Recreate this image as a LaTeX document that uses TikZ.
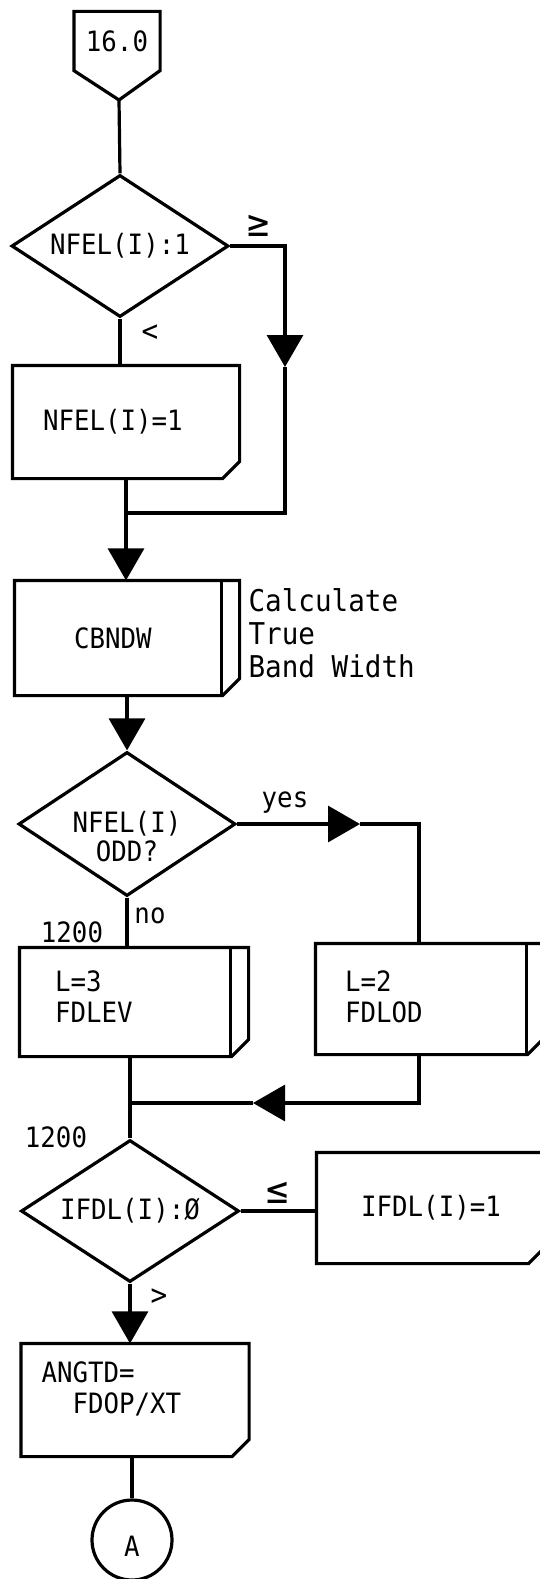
\documentclass[tikz,border=0pt]{standalone}
\usepackage{fontspec}
\setmonofont[FakeStretch=0.92]{DejaVu Sans Mono}
\usetikzlibrary{positioning,shapes.geometric,arrows.meta}

% box outline with the cut corner, and the one with the extra side line
\newcommand{\chamferbox}[1]{\draw (#1.north west) -- (#1.north east) -- ([yshift=17pt]#1.south east) -- ([xshift=-17pt]#1.south east) -- (#1.south west) -- cycle;}
\newcommand{\predefbox}[1]{\chamferbox{#1}\draw ([xshift=-18pt]#1.north east) -- ([xshift=-18pt]#1.south east);}

\begin{document}
\begin{tikzpicture}[x=1pt, y=-1pt, line width=3.2pt, >={Triangle[width=36pt,length=32pt]}, every node/.style={font=\ttfamily\fontsize{28}{31}\selectfont}]
\tikzstyle{decision}=[diamond, draw, inner sep=0pt, align=center, shape aspect=1.53, minimum width=217pt, minimum height=142pt]
\tikzstyle{procbox}=[rectangle, align=left, inner ysep=0pt]
\tikzstyle{lbl}=[inner sep=0pt]
\tikzstyle{smalllbl}=[inner sep=0pt, font=\ttfamily\fontsize{30}{30}\selectfont]
\tikzstyle{rellbl}=[inner sep=0pt, font=\ttfamily\fontsize{40}{40}\selectfont]
\useasboundingbox (0,0) rectangle (540,1579);

% entry connector
\node[minimum width=83pt, minimum height=56pt, inner sep=0pt] (conn) at (117,41) {16.0};
\coordinate (conntip) at (119,100);
\draw (conn.north west) -- (conn.south west) -- (conntip) -- (conn.south east) -- (conn.north east) -- cycle;

% first test
\node[decision] (nfelchk) at (120,246) {NFEL(I):1};
\node[rellbl] (gelbl) at (259,226) {≥};
\node[smalllbl] (ltlbl) at (150,333) {<};
\node[procbox, text width=166pt, inner xsep=29pt, minimum height=110pt] (nfelset) at (126,422) {NFEL(I)=1};
\chamferbox{nfelset}
\coordinate (arr1) at (285,367);
\coordinate (join1) at (126,513);
\draw (conntip) -- (nfelchk.north);
\draw (nfelchk.south) -- (nfelchk.south |- nfelset.north);
\draw[->] (nfelchk.east) -| (arr1);
\draw (arr1) -- (arr1 |- join1) -- (join1);
\draw (nfelset.south) -- (join1);

% band width
\node[procbox, text width=106pt, inner xsep=58pt, minimum height=112pt] (cbndw) at (127,638) {CBNDW};
\predefbox{cbndw}
\node[lbl, anchor=west, align=left, font=\ttfamily\fontsize{30}{33}\selectfont] (cbndwnote) at (247,633) {Calculate\\True\\Band Width};
\draw[->] (join1) -- (join1 |- cbndw.north);

% odd / even
\node[decision, minimum height=144pt, font=\ttfamily\fontsize{28}{28}\selectfont] (oddchk) at (127,824) {\raisebox{-23pt}[0pt][0pt]{\begin{tabular}{@{}c@{}}NFEL(I)\\ODD?\end{tabular}}};
\draw[->] (cbndw.south) -- (oddchk.north);
\node[lbl] (yeslbl) at (285,803) {yes};
\node[lbl] (nolbl) at (150,916) {no};
\node[lbl] (evenno) at (72,932) {1200};
\node[procbox, text width=158pt, inner xsep=34pt, minimum height=106pt, text depth=42pt] (fdlev) at (134,1002) {L=3\\FDLEV};
\predefbox{fdlev}
\node[procbox, text width=170pt, inner xsep=28pt, minimum height=108pt, text depth=36pt] (fdlod) at (430,999) {L=2\\FDLOD};
\predefbox{fdlod}
\coordinate (arr2) at (360,824);
\coordinate (fdlodtop) at ([xshift=-11pt]fdlod.north);
\coordinate (fdlodbot) at ([xshift=-11pt]fdlod.south);
\draw[->] (oddchk.east) -- (arr2);
\draw (arr2) -| (fdlodtop);
\draw (oddchk.south) -- (oddchk.south |- fdlev.north);

% second test
\node[decision, minimum width=218pt] (ifdlchk) at (130,1211) {IFDL(I):Ø};
\node[lbl] (ifdlno) at (56,1137) {1200};
\coordinate (arr3) at (253,1103);
\draw[->] (fdlodbot) |- (arr3);
\draw (arr3) -- (arr3 -| ifdlchk.north);
\draw (fdlev.south -| ifdlchk.north) -- (ifdlchk.north);
\node[rellbl] (lelbl) at (278,1193) {≤};
\node[procbox, align=center, text width=160pt, inner xsep=33pt, minimum height=108pt] (ifdlset) at (431,1208) {IFDL(I)=1};
\chamferbox{ifdlset}
\draw (ifdlchk.east) -- (ifdlchk.east -| ifdlset.west);
\node[smalllbl] (gtlbl) at (159,1297) {>};

% angle and exit
\node[procbox, text width=187pt, inner xsep=19pt, minimum height=110pt, text depth=56pt] (angtd) at (135,1400) {ANGTD=\\\hspace*{31pt}FDOP/XT};
\chamferbox{angtd}
\draw[->] (ifdlchk.south) -- (ifdlchk.south |- angtd.north);
\node[circle, draw, minimum size=80pt, inner sep=0pt, text height=33pt] (conA) at (132,1540) {A};
\draw (conA.north |- angtd.south) -- (conA.north);
\end{tikzpicture}
\end{document}
